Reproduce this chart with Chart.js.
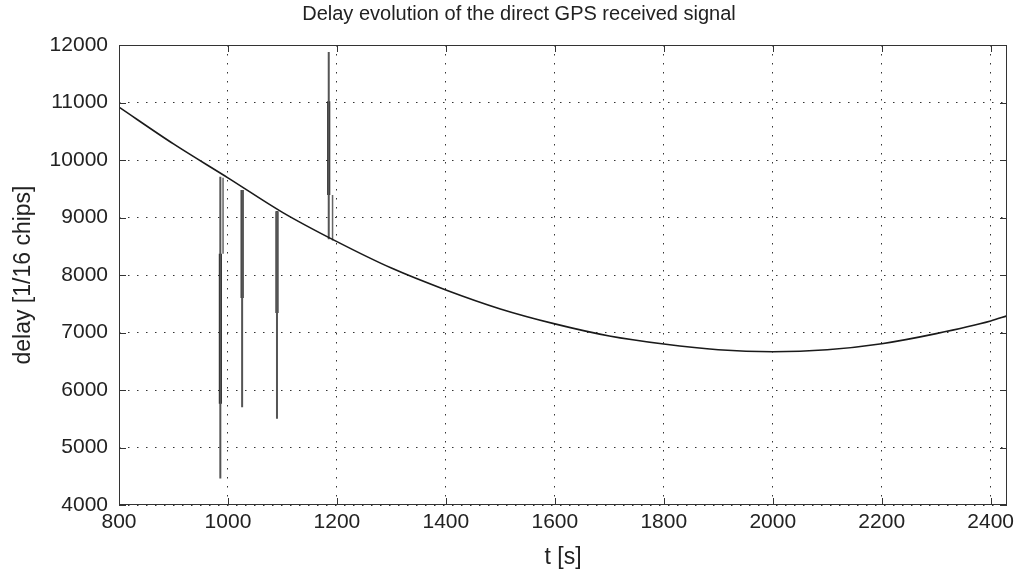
<!DOCTYPE html>
<html>
<head>
<meta charset="utf-8">
<title>Delay evolution of the direct GPS received signal</title>
<script src="https://cdn.jsdelivr.net/npm/chart.js@4.4.1/dist/chart.umd.min.js"></script>
<style>
  html, body { margin: 0; padding: 0; background: #fff; }
  #wrap { width: 1015px; height: 571px; }
</style>
</head>
<body>
<div id="wrap"><canvas id="delayChart" width="1015" height="571"></canvas></div>
<script>
// Delay curve of the direct GPS signal
const timeS = [800, 900, 1000, 1100, 1200, 1300, 1400, 1500, 1600, 1700, 1800, 1900, 2000, 2100, 2200, 2300, 2400, 2430];
const delayChips = [10920, 10280, 9690, 9090, 8580, 8120, 7740, 7410, 7150, 6940, 6800, 6700, 6665, 6700, 6805, 6980, 7200, 7290];

// Short drop-outs / jumps of the tracked delay
const spikeTimes = [986, 1026, 1090, 1185];
const spikeTop = [9710, 9480, 9110, 11880];
const spikeBottom = [4460, 5700, 5500, 8620];
const spikeBoldTop = [8370, 9480, 9110, 11020];
const spikeBoldBottom = [5760, 7600, 7340, 9390];

// second trace right next to two of the jumps
const echoTimes = [991, 1192];
const echoTop = [9690, 9390];
const echoBottom = [8370, 8600];

const xTicks = [800, 1000, 1200, 1400, 1600, 1800, 2000, 2200, 2400];
const yTicks = [4000, 5000, 6000, 7000, 8000, 9000, 10000, 11000, 12000];

const TEXT = '#222';
const FONT = "'Liberation Sans', Arial, sans-serif";

const segment = (t, a, b, width, color) => ({
  data: [{ x: t, y: a }, { x: t, y: b }],
  borderColor: color,
  borderWidth: width,
  pointRadius: 0,
  tension: 0,
});

const datasets = [
  {
    label: 'delay',
    data: timeS.map((t, i) => ({ x: t, y: delayChips[i] })),
    borderColor: '#1a1a1a',
    borderWidth: 1.6,
    pointRadius: 0,
    cubicInterpolationMode: 'monotone',
  },
];

spikeTimes.forEach((t, i) => {
  datasets.push(segment(t, spikeTop[i], spikeBottom[i], 2, '#555'));
});
echoTimes.forEach((t, i) => {
  datasets.push(segment(t, echoTop[i], echoBottom[i], 1.5, '#666'));
});
spikeTimes.forEach((t, i) => {
  datasets.push(segment(t, spikeBoldTop[i], spikeBoldBottom[i], 3, '#000'));
});

// axes box with inward tick marks, like the original figure
const boxPlugin = {
  id: 'box',
  afterDatasetsDraw(chart) {
    const { ctx, chartArea: a, scales } = chart;
    ctx.save();
    ctx.strokeStyle = '#333';
    ctx.lineWidth = 1;
    ctx.strokeRect(a.left + 0.5, a.top + 0.5, a.right - a.left - 1, a.bottom - a.top - 1);
    ctx.beginPath();
    xTicks.forEach((v) => {
      const px = Math.round(scales.x.getPixelForValue(v)) + 0.5;
      ctx.moveTo(px, a.bottom); ctx.lineTo(px, a.bottom - 7);
      ctx.moveTo(px, a.top); ctx.lineTo(px, a.top + 7);
    });
    yTicks.forEach((v) => {
      const py = Math.round(scales.y.getPixelForValue(v)) + 0.5;
      ctx.moveTo(a.left, py); ctx.lineTo(a.left + 7, py);
      ctx.moveTo(a.right, py); ctx.lineTo(a.right - 7, py);
    });
    ctx.stroke();
    ctx.restore();
  },
};

// title sits over the figure, not the axes
const titlePlugin = {
  id: 'figTitle',
  afterDraw(chart) {
    const { ctx } = chart;
    ctx.save();
    ctx.fillStyle = TEXT;
    ctx.font = `20px ${FONT}`;
    ctx.textAlign = 'center';
    ctx.textBaseline = 'middle';
    ctx.fillText('Delay evolution of the direct GPS received signal', 519, 14);
    ctx.restore();
  },
};

new Chart(document.getElementById('delayChart'), {
  type: 'line',
  data: { datasets },
  plugins: [boxPlugin, titlePlugin],
  options: {
    responsive: false,
    animation: false,
    layout: { padding: { top: 45, right: 8, left: 0, bottom: 0 } },
    plugins: {
      legend: { display: false },
      tooltip: { enabled: false },
      title: { display: false },
    },
    scales: {
      x: {
        type: 'linear',
        min: 800,
        max: 2430,
        afterBuildTicks: (scale) => { scale.ticks = xTicks.map((v) => ({ value: v })); },
        afterFit: (scale) => {
          scale.height = 66;
          // let the end labels hang over the plot edges
          scale.paddingLeft = 0;
          scale.paddingRight = 0;
        },
        ticks: {
          color: TEXT,
          font: { family: FONT, size: 21 },
          padding: 5,
          maxRotation: 0,
          callback: (v) => String(v),
        },
        grid: { color: '#333', lineWidth: 1, drawTicks: false },
        border: { display: false, dash: [1.5, 7.5] },
        title: {
          display: true,
          text: 't [s]',
          color: TEXT,
          font: { family: FONT, size: 23 },
          padding: { top: 0, bottom: 0 },
        },
      },
      y: {
        type: 'linear',
        min: 4000,
        max: 12000,
        afterBuildTicks: (scale) => { scale.ticks = yTicks.map((v) => ({ value: v })); },
        afterFit: (scale) => { scale.width = 119; },
        ticks: {
          color: TEXT,
          font: { family: FONT, size: 21 },
          padding: 11,
          callback: (v) => String(v),
        },
        grid: { color: '#333', lineWidth: 1, drawTicks: false },
        border: { display: false, dash: [1.5, 7.5] },
        title: {
          display: true,
          text: 'delay [1/16 chips]',
          color: TEXT,
          font: { family: FONT, size: 23 },
          padding: { top: 10, bottom: 0 },
        },
      },
    },
  },
});
</script>
</body>
</html>
